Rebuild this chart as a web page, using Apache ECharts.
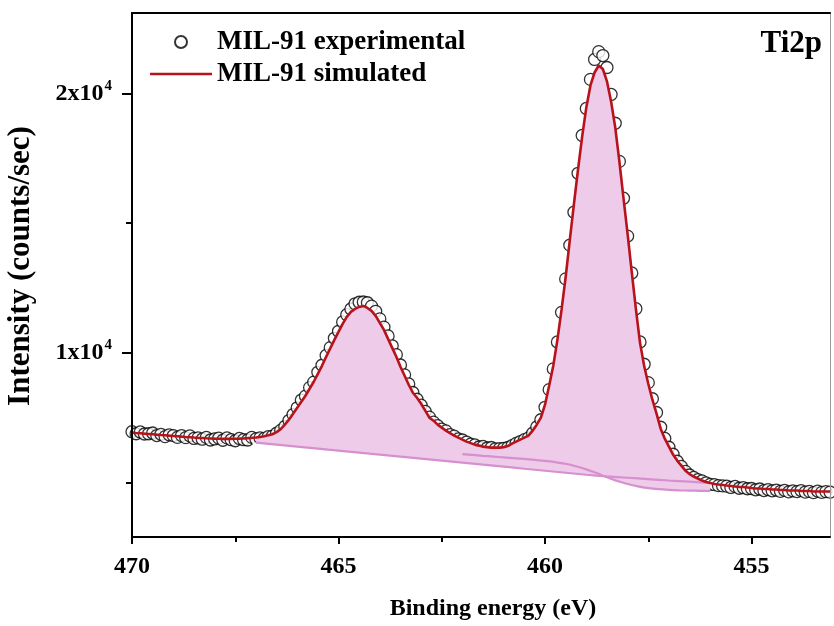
<!DOCTYPE html>
<html><head><meta charset="utf-8">
<script src="https://cdn.jsdelivr.net/npm/echarts@6/dist/echarts.min.js"></script>
<style>html,body{margin:0;padding:0;background:#fff}#c{width:834px;height:626px}</style>
</head><body><div id="c"></div>
<script>
// Binding energy grid of the measured spectrum (eV)
const energy = [470.0,469.9,469.8,469.7,469.6,469.5,469.4,469.3,469.2,469.1,
469.0,468.9,468.8,468.7,468.6,468.5,468.4,468.3,468.2,468.1,
468.0,467.9,467.8,467.7,467.6,467.5,467.4,467.3,467.2,467.1,
467.0,466.9,466.8,466.7,466.6,466.5,466.4,466.3,466.2,466.1,
466.0,465.9,465.8,465.7,465.6,465.5,465.4,465.3,465.2,465.1,
465.0,464.9,464.8,464.7,464.6,464.5,464.4,464.3,464.2,464.1,
464.0,463.9,463.8,463.7,463.6,463.5,463.4,463.3,463.2,463.1,
463.0,462.9,462.8,462.7,462.6,462.5,462.4,462.3,462.2,462.1,
462.0,461.9,461.8,461.7,461.6,461.5,461.4,461.3,461.2,461.1,
461.0,460.9,460.8,460.7,460.6,460.5,460.4,460.3,460.2,460.1,
460.0,459.9,459.8,459.7,459.6,459.5,459.4,459.3,459.2,459.1,
459.0,458.9,458.8,458.7,458.6,458.5,458.4,458.3,458.2,458.1,
458.0,457.9,457.8,457.7,457.6,457.5,457.4,457.3,457.2,457.1,
457.0,456.9,456.8,456.7,456.6,456.5,456.4,456.3,456.2,456.1,
456.0,455.9,455.8,455.7,455.6,455.5,455.4,455.3,455.2,455.1,
455.0,454.9,454.8,454.7,454.6,454.5,454.4,454.3,454.2,454.1,
454.0,453.9,453.8,453.7,453.6,453.5,453.4,453.3,453.2,453.1];

// MIL-91 experimental (circles)
const expCounts = [6960,6880,6950,6870,6880,6910,6810,6860,6770,6840,
6810,6740,6810,6730,6800,6700,6720,6670,6740,6640,
6680,6710,6630,6720,6650,6610,6700,6650,6640,6740,
6680,6720,6700,6770,6790,6900,7010,7160,7390,7620,
7880,8180,8330,8660,8870,9250,9520,9900,10200,10560,
10830,11190,11470,11690,11890,11950,11960,11930,11800,11600,
11310,10990,10650,10270,9930,9530,9150,8800,8470,8210,
7980,7740,7520,7330,7190,7060,6990,6850,6790,6680,
6640,6560,6480,6450,6370,6390,6330,6350,6300,6310,
6320,6350,6420,6510,6580,6650,6720,6900,7140,7420,
7900,8580,9380,10420,11560,12850,14150,15420,16920,18380,
19420,20540,21310,21610,21460,21000,19960,18850,17380,15960,
14500,13080,11700,10420,9560,8850,8230,7700,7130,6700,
6360,6090,5820,5620,5430,5290,5200,5110,5060,4990,
4930,4920,4880,4870,4860,4810,4850,4780,4800,4760,
4770,4720,4750,4690,4730,4680,4710,4660,4700,4640,
4680,4650,4690,4630,4660,4610,4670,4620,4650,4630];

// MIL-91 simulated (fit envelope, red line)
const fitCounts = [6923,6911,6900,6884,6873,6861,6846,6834,6823,6807,
6796,6784,6769,6757,6746,6734,6723,6715,6707,6700,
6692,6688,6684,6684,6684,6688,6692,6700,6711,6723,
6738,6757,6784,6819,6861,6942,7057,7231,7423,7654,
7884,8115,8346,8615,8884,9192,9500,9846,10173,10500,
10808,11115,11384,11577,11692,11769,11807,11730,11615,11423,
11154,10884,10538,10192,9846,9461,9115,8769,8462,8269,
8038,7769,7500,7384,7231,7115,6999,6903,6807,6731,
6654,6577,6519,6461,6423,6384,6365,6346,6346,6346,
6365,6404,6500,6577,6654,6731,6807,6999,7231,7500,
8000,8731,9500,10500,11653,12923,14346,15730,17076,18345,
19461,20307,20807,21076,20941,20461,19691,18692,17384,15961,
14576,13115,11692,10384,9500,8808,8192,7654,7077,6692,
6384,6077,5846,5654,5458,5327,5231,5154,5077,5019,
4981,4942,4923,4904,4884,4865,4846,4827,4827,4808,
4788,4769,4769,4750,4750,4731,4731,4711,4711,4692,
4692,4692,4673,4673,4673,4654,4654,4654,4654,4654];

// Background (baseline) curves
const bgEnergy = [467.0,466.75,466.5,466.25,466.0,465.75,465.5,465.25,465.0,464.75,
464.5,464.25,464.0,463.75,463.5,463.25,463.0,462.75,462.5,462.25,
462.0,461.75,461.5,461.25,461.0,460.75,460.5,460.25,460.0,459.75,
459.5,459.25,459.0,458.75,458.5,458.25,458.0,457.75,457.5,457.25,
457.0,456.75,456.5,456.25,456.0];
const bgA = [6538,6500,6461,6423,6384,6346,6308,6265,6227,6188,
6150,6111,6073,6034,5996,5958,5919,5881,5842,5804,
5765,5727,5688,5650,5611,5573,5531,5492,5454,5415,
5377,5338,5300,5269,5238,5211,5185,5158,5131,5104,
5077,5054,5031,5008,4989];
const bgB = [null,null,null,null,null,null,null,null,null,null,
null,null,null,null,null,null,null,null,null,null,
6096,6065,6031,6000,5969,5938,5908,5873,5835,5785,
5723,5627,5508,5365,5204,5058,4941,4850,4785,4742,
4716,4700,4688,4681,4673];

const xMajorTicks = [455, 460, 465, 470];
const xMinorTicks = [457.5, 462.5, 467.5];
const yMajorTicks = [10000, 20000];
const yMinorTicks = [5000, 15000];

const FONT = '"Liberation Serif","Times New Roman",serif';
const PINK = '#eecbe9';
const BGLINE = '#d68fcf';
const RED = '#b8121b';

const pair = (xs, ys) => xs.map((x, i) => [x, ys[i]]).filter(p => p[1] != null);
const fillTop = pair(energy, fitCounts).filter(p => p[0] <= 467.0001 && p[0] >= 455.9999);
const lowBg = bgEnergy.map((e, i) => [e, bgB[i] == null ? bgA[i] : Math.min(bgA[i], bgB[i])]);
const mask = [[467.08, lowBg[0][1]]].concat(lowBg, [[455.92, lowBg[lowBg.length - 1][1]]]);

const chart = echarts.init(document.getElementById('c'), null, {renderer: 'canvas'});
const xCommon = {type: 'value', min: 453.1, max: 470, inverse: true, splitLine: {show: false}};
const yCommon = {type: 'value', min: 2900, max: 23100, splitLine: {show: false}};
const supLabel = v => '{b|' + Math.round(v / 10000) + 'x10}{s|4}';
const legendText = {fontFamily: FONT, fontWeight: 'bold', fontSize: 27, color: '#000', lineHeight: 30};

chart.setOption({
  animation: false,
  backgroundColor: '#fff',
  grid: {left: 132, right: 4, top: 13, bottom: 89, containLabel: false, outerBoundsMode: 'none'},
  title: {text: 'Ti2p', right: 7, top: 23,
    textStyle: {fontFamily: FONT, fontWeight: 'bold', fontSize: 31, color: '#000'}},
  legend: [
    {data: [{name: 'MIL-91 experimental', icon: 'circle'}], left: 174, top: 27, padding: 0,
      itemWidth: 62, itemHeight: 12, textStyle: legendText},
    {data: [{name: 'MIL-91 simulated', icon: 'rect'}], left: 150, top: 59, padding: 0,
      itemWidth: 62, itemHeight: 2.6, textStyle: legendText}
  ],
  xAxis: [
    Object.assign({}, xCommon, {
      position: 'bottom', z: 10,
      axisLine: {show: true, lineStyle: {color: '#000', width: 2}},
      axisTick: {show: true, customValues: xMajorTicks, length: 7, lineStyle: {color: '#000', width: 2}},
      axisLabel: {show: true, customValues: xMajorTicks, margin: 18, color: '#000',
        fontFamily: FONT, fontWeight: 'bold', fontSize: 24},
      name: 'Binding energy (eV)', nameLocation: 'middle', nameGap: 60,
      nameTextStyle: {fontFamily: FONT, fontWeight: 'bold', fontSize: 24, color: '#000', padding: [0, 0, 0, 24]}
    }),
    Object.assign({}, xCommon, {
      position: 'bottom', z: 10,
      axisLine: {show: false},
      axisTick: {show: true, customValues: xMinorTicks, length: 5, lineStyle: {color: '#000', width: 2}},
      axisLabel: {show: false}
    }),
    Object.assign({}, xCommon, {
      position: 'top', z: 10,
      axisLine: {show: true, lineStyle: {color: '#000', width: 2}},
      axisTick: {show: false}, axisLabel: {show: false}
    })
  ],
  yAxis: [
    Object.assign({}, yCommon, {
      position: 'left', z: 10,
      axisLine: {show: true, lineStyle: {color: '#000', width: 2}},
      axisTick: {show: true, customValues: yMajorTicks, length: 10, lineStyle: {color: '#000', width: 2}},
      axisLabel: {show: true, customValues: yMajorTicks, margin: 20, formatter: supLabel,
        rich: {
          b: {fontFamily: FONT, fontWeight: 'bold', fontSize: 24, lineHeight: 24, color: '#000'},
          s: {fontFamily: FONT, fontWeight: 'bold', fontSize: 15, lineHeight: 15, color: '#000',
            verticalAlign: 'bottom', padding: [0, 0, 12, 1]}
        }},
      name: 'Intensity (counts/sec)', nameLocation: 'middle', nameRotate: 90, nameGap: 96,
      nameTextStyle: {fontFamily: FONT, fontWeight: 'bold', fontSize: 31, color: '#000', padding: [0, 0, 0, 18]}
    }),
    Object.assign({}, yCommon, {
      position: 'left', z: 10,
      axisLine: {show: false},
      axisTick: {show: true, customValues: yMinorTicks, length: 6, lineStyle: {color: '#000', width: 2}},
      axisLabel: {show: false}
    }),
    Object.assign({}, yCommon, {
      position: 'right', z: 10,
      axisLine: {show: true, lineStyle: {color: '#9a9a9a', width: 1}},
      axisTick: {show: false}, axisLabel: {show: false}
    })
  ],
  series: [
    {type: 'line', name: 'fill', data: fillTop, symbol: 'none', silent: true,
      lineStyle: {width: 0, opacity: 0}, areaStyle: {color: PINK, opacity: 1, origin: 'start'}},
    {type: 'line', name: 'mask', data: mask, symbol: 'none', silent: true,
      lineStyle: {width: 0, opacity: 0}, areaStyle: {color: '#ffffff', opacity: 1, origin: 'start'}},
    {type: 'line', name: 'bgA', data: pair(bgEnergy, bgA), symbol: 'none', silent: true,
      lineStyle: {color: BGLINE, width: 2.2}},
    {type: 'line', name: 'bgB', data: pair(bgEnergy, bgB), symbol: 'none', silent: true, smooth: 0.3,
      lineStyle: {color: BGLINE, width: 2.2}},
    {type: 'scatter', name: 'MIL-91 experimental', data: pair(energy, expCounts),
      symbol: 'circle', symbolSize: 12,
      itemStyle: {color: '#ffffff', borderColor: '#000', borderWidth: 1.3}},
    {type: 'line', name: 'MIL-91 simulated', data: pair(energy, fitCounts), symbol: 'none',
      lineStyle: {color: RED, width: 2.6}, itemStyle: {color: RED}}
  ]
});
</script>
</body></html>
